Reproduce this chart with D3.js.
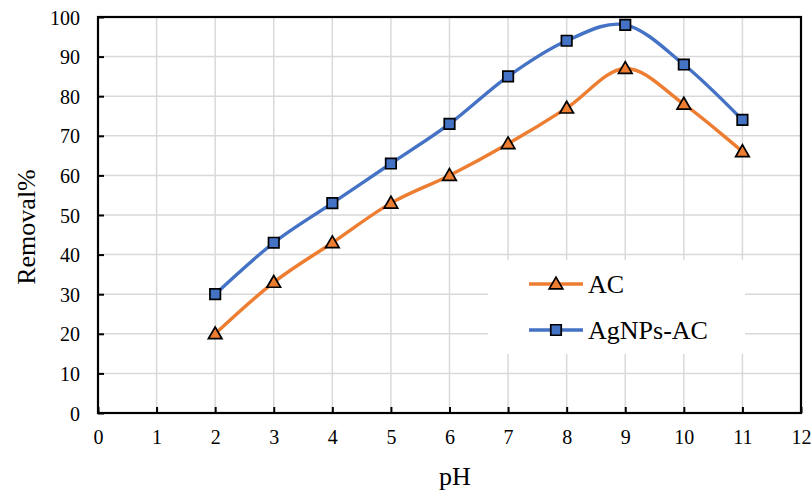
<!DOCTYPE html>
<html><head><meta charset="utf-8">
<script src="https://cdn.jsdelivr.net/npm/d3@7"></script>
<style>body{margin:0;background:#fff}svg{display:block}text{font-family:'Liberation Serif','Times New Roman',serif !important}</style>
</head><body>
<svg id="c" width="812" height="493"></svg>
<script>
const pH = [2,3,4,5,6,7,8,9,10,11];
const acValues = [20,33,43,53,60,68,77,87,78,66];
const agValues = [30,43,53,63,73,85,94,98,88,74];
const xTicks = [0,1,2,3,4,5,6,7,8,9,10,11,12];
const yTicks = [0,10,20,30,40,50,60,70,80,90,100];
const seriesNames = ["AC","AgNPs-AC"];

const svg = d3.select("#c");
const L=98,R=801,T=17,B=413;
const x = d3.scaleLinear().domain([0,12]).range([L,R]);
const y = d3.scaleLinear().domain([0,100]).range([B,T]);
const font = "'Liberation Serif','Times New Roman',serif";

// grid
svg.append("g").selectAll("line").data(yTicks.slice(1,-1)).join("line")
  .attr("x1",L).attr("x2",R).attr("y1",d=>y(d)).attr("y2",d=>y(d))
  .attr("stroke","#d9d9d9").attr("stroke-width",1.5);
svg.append("g").selectAll("line").data(xTicks.slice(1,-1)).join("line")
  .attr("y1",T).attr("y2",B).attr("x1",d=>x(d)).attr("x2",d=>x(d))
  .attr("stroke","#d9d9d9").attr("stroke-width",1.5);

// axes
const ya = svg.append("g").attr("transform",`translate(${L},0)`)
  .call(d3.axisLeft(y).tickValues(yTicks).tickSize(-6).tickPadding(24));
const xa = svg.append("g").attr("transform",`translate(0,${B})`)
  .call(d3.axisBottom(x).tickValues(xTicks).tickSize(-6).tickPadding(24));
[ya,xa].forEach(a=>{
  a.attr("font-family",font).attr("font-size",20);
  a.select(".domain").remove();
  a.selectAll(".tick line").attr("stroke","#000").attr("stroke-width",2);
  a.selectAll("text").style("font-family",font).style("font-size","20px").attr("fill","#000");
});
ya.selectAll("text").attr("x",-18).attr("dy","0.35em");
xa.selectAll("text").attr("y",17).attr("dy","0.71em");

svg.append("rect").attr("x",L).attr("y",T).attr("width",R-L).attr("height",B-T)
  .attr("fill","none").attr("stroke","#000").attr("stroke-width",2.2);

// titles
svg.append("text").attr("x",455).attr("y",485).attr("text-anchor","middle")
  .attr("font-family",font).attr("font-size",26).text("pH");
svg.append("text").attr("transform","translate(35,227) rotate(-90)").attr("text-anchor","middle")
  .attr("font-family",font).attr("font-size",26).text("Removal%");

const colors = ["#ED7D31","#4472C4"];
const tri = d3.symbol().type(d3.symbolTriangle).size(80);
const sq = d3.symbol().type(d3.symbolSquare).size(110);
const line = d3.line().x((d,i)=>x(pH[i])).y(d=>y(d)).curve(d3.curveCatmullRom.alpha(0));

[acValues,agValues].forEach((vals,k)=>{
  svg.append("path").attr("d",line(vals)).attr("fill","none")
    .attr("stroke",colors[k]).attr("stroke-width",3.4);
});
[acValues,agValues].forEach((vals,k)=>{
  svg.append("g").selectAll("path").data(vals).join("path")
    .attr("d",k===0?tri():sq())
    .attr("transform",(d,i)=>`translate(${x(pH[i])},${y(d)+(k===0?1:0)})`)
    .attr("fill",colors[k]).attr("stroke","#000").attr("stroke-width",1.7);
});

// legend
const lg = svg.append("g");
lg.append("rect").attr("x",488).attr("y",260).attr("width",257).attr("height",94).attr("fill","#fff");
const ly=[284,330];
seriesNames.forEach((n,k)=>{
  lg.append("line").attr("x1",529).attr("x2",583).attr("y1",ly[k]).attr("y2",ly[k])
    .attr("stroke",colors[k]).attr("stroke-width",3.4);
  lg.append("path").attr("d",k===0?tri():sq())
    .attr("transform",`translate(556,${ly[k]+(k===0?1:0)})`)
    .attr("fill",colors[k]).attr("stroke","#000").attr("stroke-width",1.7);
  lg.append("text").attr("x",588).attr("y",ly[k]+9).attr("font-family",font)
    .attr("font-size",26).text(n);
});
</script>
</body></html>
